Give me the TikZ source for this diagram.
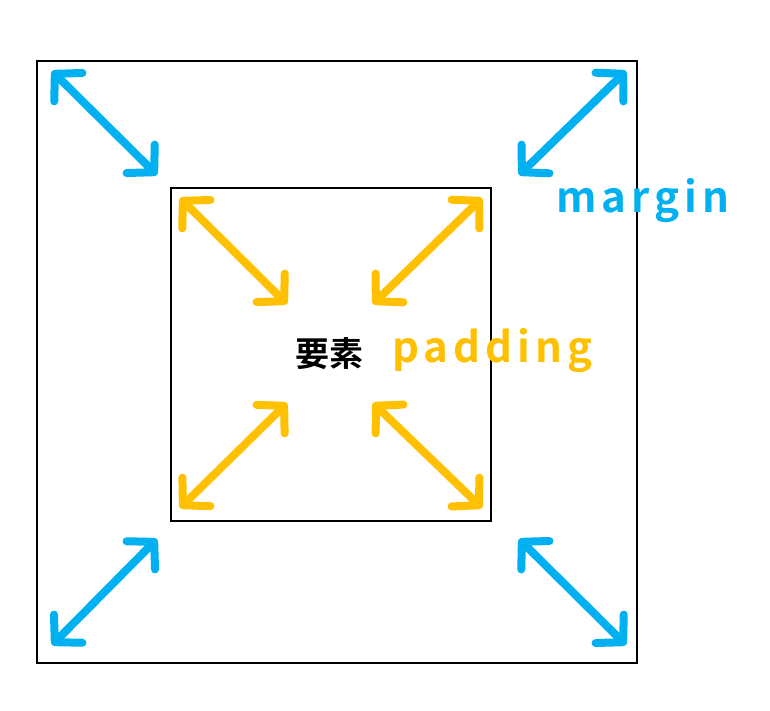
\documentclass[tikz,border=0pt]{standalone}
\usepackage{fontspec}
\usetikzlibrary{arrows.meta}
\newfontfamily\jpfont{Noto Sans CJK JP}[BoldFont={* Bold}]
\newfontfamily\spfont{Noto Sans CJK JP}[BoldFont={* Bold},LetterSpace=12]
\definecolor{mblue}{HTML}{00B0F0}
\definecolor{pgold}{HTML}{FFC000}
\tikzset{
  box/.style={draw=black,line width=1.6pt},
  dblarrow/.style={line width=8pt,line cap=round,line join=round,
    {Straight Barb[length=19pt,width=40pt,line cap=round,line join=round]}-{Straight Barb[length=19pt,width=40pt,line cap=round,line join=round]}},
  marr/.style={dblarrow,draw=mblue},
  parr/.style={dblarrow,draw=pgold},
}
\begin{document}
\begin{tikzpicture}[x=1pt,y=-1pt]
\useasboundingbox (0,0) rectangle (770,710);
\draw[box] (37,61) rectangle (637,663);
\draw[box] (171,188) rectangle (491,521);
% margin arrows
\coordinate (m1a) at (52,71);  \coordinate (m1b) at (157,175);
\coordinate (m2a) at (626,71); \coordinate (m2b) at (519,175);
\coordinate (m3a) at (52,645); \coordinate (m3b) at (157,539);
\coordinate (m4a) at (626,645);\coordinate (m4b) at (519,539);
\draw[marr] (m1a) -- (m1b);
\draw[marr] (m2a) -- (m2b);
\draw[marr] (m3a) -- (m3b);
\draw[marr] (m4a) -- (m4b);
% padding arrows
\coordinate (p1a) at (180,198); \coordinate (p1b) at (287,304);
\coordinate (p2a) at (482,198); \coordinate (p2b) at (373,304);
\coordinate (p3a) at (180,508); \coordinate (p3b) at (287,403);
\coordinate (p4a) at (482,508); \coordinate (p4b) at (373,403);
\draw[parr] (p1a) -- (p1b);
\draw[parr] (p2a) -- (p2b);
\draw[parr] (p3a) -- (p3b);
\draw[parr] (p4a) -- (p4b);
% texts
\node[font=\jpfont\bfseries\fontsize{34}{40}\selectfont,anchor=base,inner sep=0pt] (elem) at (329,366) {要素};
\node[font=\spfont\bfseries\fontsize{42}{48}\selectfont,text=pgold,anchor=base west,inner sep=0pt] (pad) at (392,362) {padding};
\node[font=\spfont\bfseries\fontsize{42}{48}\selectfont,text=mblue,anchor=base west,inner sep=0pt] (mar) at (556,212) {margin};
\end{tikzpicture}
\end{document}
